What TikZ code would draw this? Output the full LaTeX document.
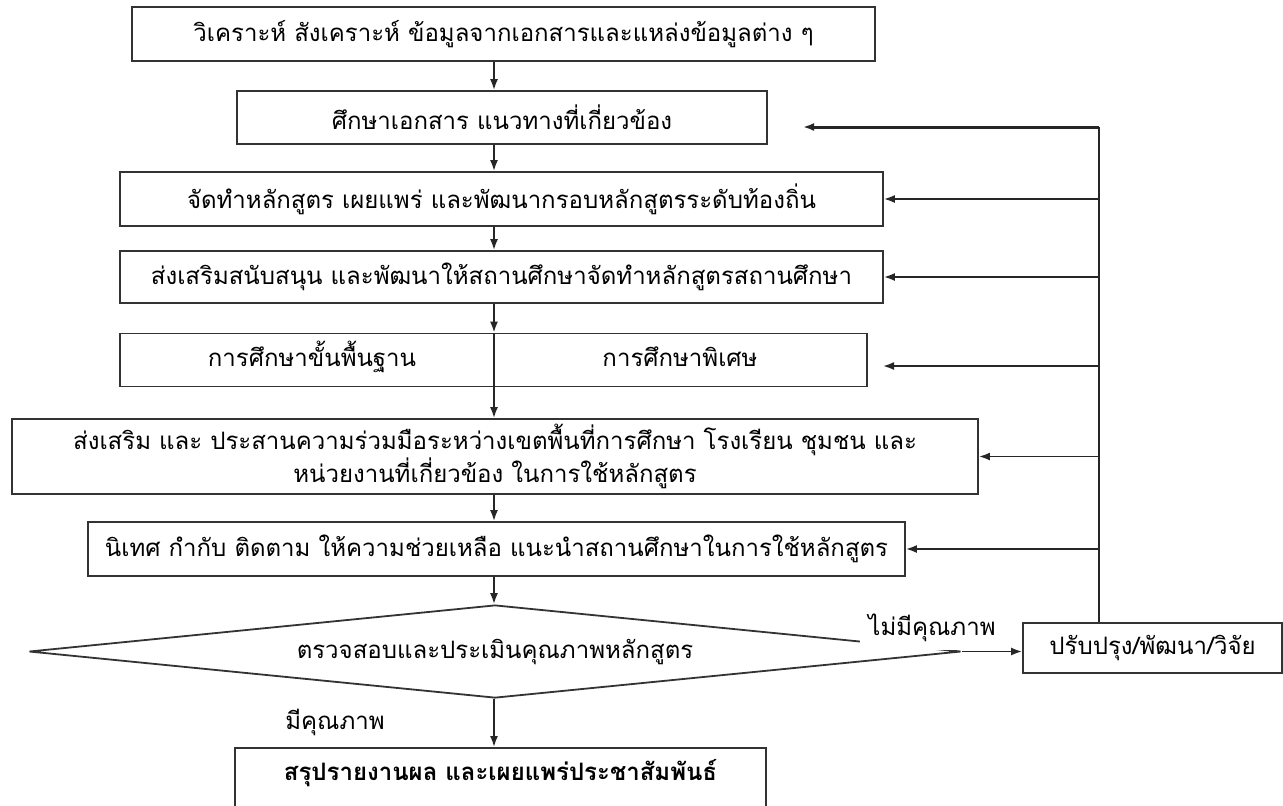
\documentclass[tikz,border=0pt]{standalone}
\usepackage{fontspec}
\setmainfont[Script=Thai]{Loma}
\usetikzlibrary{shapes.geometric,arrows.meta}

\begin{document}
\begin{tikzpicture}[x=0.5pt,y=-0.5pt,
    box/.style={rectangle, draw=black!80, line width=0.9pt, inner sep=0pt, font=\fontsize{12}{15}\selectfont},
    arr/.style={-{Latex[length=5.5pt,width=4pt]}, line width=0.9pt, draw=black!85},
    lbl/.style={font=\fontsize{12}{15}\selectfont, inner sep=1pt}]
\useasboundingbox[fill=white] (0,0) rectangle (1283,805);
\coordinate (mid) at (494,0);

\node[box, minimum width=371.5pt, minimum height=27pt] (b1) at (503.5,34) {วิเคราะห์ สังเคราะห์ ข้อมูลจากเอกสารและแหล่งข้อมูลต่าง ๆ};
\node[box, minimum width=265pt, minimum height=26.5pt] (b2) at (502,117.5) {ศึกษาเอกสาร แนวทางที่เกี่ยวข้อง};
\node[box, minimum width=381.5pt, minimum height=27pt] (b3) at (501.5,199) {จัดทำหลักสูตร เผยแพร่ และพัฒนากรอบหลักสูตรระดับท้องถิ่น};
\node[box, minimum width=381.5pt, minimum height=26pt] (b4) at (501.5,277) {ส่งเสริมสนับสนุน และพัฒนาให้สถานศึกษาจัดทำหลักสูตรสถานศึกษา};
\node[box, minimum width=373.5pt, minimum height=26.5pt] (b5) at (493.5,360) {};
\node[lbl] (b5l) at (312,357) {การศึกษาขั้นพื้นฐาน};
\node[lbl] (b5r) at (680,357) {การศึกษาพิเศษ};
\node[box, minimum width=483pt, minimum height=37.5pt, align=center] (b6) at (495,456.5) {ส่งเสริม และ ประสานความร่วมมือระหว่างเขตพื้นที่การศึกษา โรงเรียน ชุมชน และ\\หน่วยงานที่เกี่ยวข้อง ในการใช้หลักสูตร};
\node[box, minimum width=408.5pt, minimum height=27pt] (b7) at (496.5,549) {นิเทศ กำกับ ติดตาม ให้ความช่วยเหลือ แนะนำสถานศึกษาในการใช้หลักสูตร};
\node[box, diamond, aspect=10, minimum width=466pt, minimum height=46.5pt] (dia) at (495,651.5) {ตรวจสอบและประเมินคุณภาพหลักสูตร};
\node[box, minimum width=129.5pt, minimum height=25pt] (rb) at (1152.5,648) {ปรับปรุง/พัฒนา/วิจัย};
\node[box, anchor=north, minimum width=265.5pt, text height=16.5pt, text depth=40pt, font=\fontsize{12}{15}\selectfont\bfseries] (b8) at (500.5,747) {สรุปรายงานผล และเผยแพร่ประชาสัมพันธ์};

\node[lbl, fill=white, inner sep=4pt] (no) at (932,628) {ไม่มีคุณภาพ};
\node[lbl] (yes) at (335,722) {มีคุณภาพ};

% main flow
\foreach \a/\b in {b1/b2,b2/b3,b3/b4,b4/b5,b5/b6,b6/b7,b7/dia,dia/b8}
    \draw[arr] (\a.south -| mid) -- (\b.north -| mid);
\draw[line width=0.9pt, black!85] (b5.north -| mid) -- (b5.south -| mid);

% feedback
\coordinate (fb) at (1099,127);
\coordinate (t2) at (803,127);
\coordinate (t5) at (883,366);
\draw[arr] (dia.east) -- (dia.east -| rb.west);
\draw[line width=0.9pt, black!85] (rb.north -| fb) -- (fb);
\draw[arr, line width=1.5pt] (fb) -- (t2);
\foreach \n in {b3,b4,b6,b7}
    \draw[arr] (fb |- \n.east) -- (\n.east);
\draw[arr] (fb |- t5) -- (t5);

\end{tikzpicture}
\end{document}
